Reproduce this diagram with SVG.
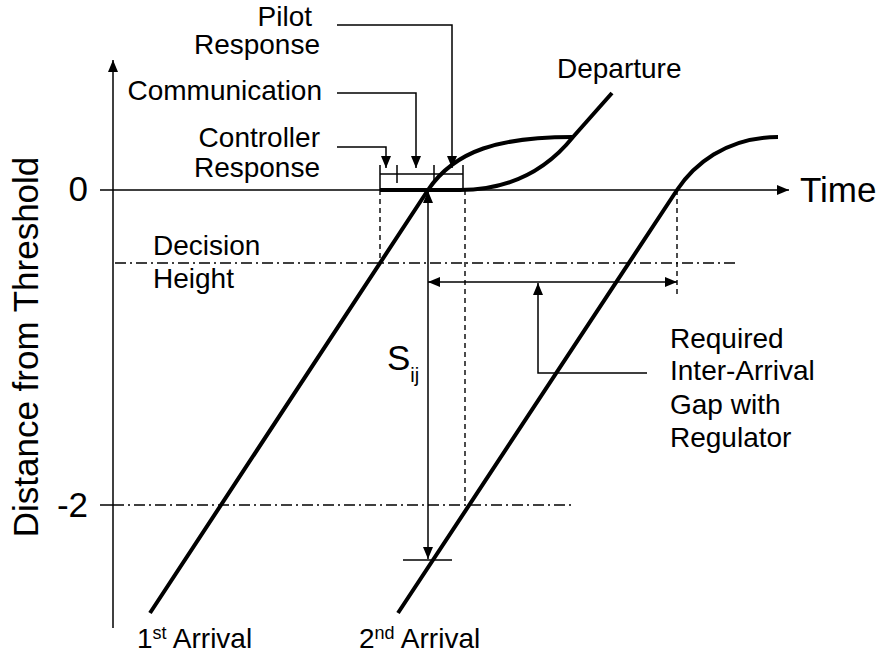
<svg xmlns="http://www.w3.org/2000/svg" width="881" height="655" viewBox="0 0 881 655">
<style>
.t{font-family:"Liberation Sans",Arial,sans-serif;font-size:28px;fill:#000}
.big{font-size:35px}
.ax{stroke:#000;stroke-width:1.5;fill:none}
.thin{stroke:#000;stroke-width:1.5;fill:none}
.thick{stroke:#000;stroke-width:4;fill:none;stroke-linejoin:round}
.dd{stroke:#000;stroke-width:1.4;fill:none;stroke-dasharray:11,4,2,4}
.dash{stroke:#000;stroke-width:1.4;fill:none;stroke-dasharray:5,4}
</style>
<defs>
<marker id="ah" viewBox="0 0 12 10" refX="12" refY="5" markerWidth="12" markerHeight="10" markerUnits="userSpaceOnUse" orient="auto-start-reverse">
<path d="M0,0 L12,5 L0,10 Z" fill="#000"/>
</marker>
</defs>
<rect width="881" height="655" fill="#fff"/>

<g id="axes">
<line class="ax" x1="113" y1="628" x2="113" y2="60" marker-end="url(#ah)"/>
<line class="ax" x1="100" y1="190" x2="789" y2="190" marker-end="url(#ah)"/>
<line class="ax" x1="100" y1="505" x2="113" y2="505"/>
<text class="t big" x="800" y="202">Time</text>
<text class="t big" x="88" y="201" text-anchor="end">0</text>
<text class="t big" x="88" y="517" text-anchor="end">-2</text>
<text class="t big" transform="translate(38,347) rotate(-90)" text-anchor="middle">Distance from Threshold</text>
</g>

<g id="reference-lines">
<line class="dd" x1="115" y1="263" x2="738" y2="263"/>
<line class="dd" x1="113" y1="505" x2="575" y2="505"/>
<line class="dash" x1="380" y1="190" x2="380" y2="263"/>
<line class="dash" x1="465" y1="190" x2="465" y2="505"/>
<line class="dash" x1="677" y1="190" x2="677" y2="298"/>
</g>

<g id="decision-height">
<text class="t" x="153" y="255">Decision</text>
<text class="t" x="153" y="288">Height</text>
</g>

<g id="first-arrival">
<path class="thick" d="M150,613 L428,190 C455,150 500,137 573,137"/>
<text class="t" x="137" y="648">1<tspan font-size="18" dy="-9">st</tspan><tspan dy="9"> Arrival</tspan></text>
</g>

<g id="departure">
<path class="thick" d="M380,190 L460,190 C500,190 540,178 573,137 L612,93"/>
<text class="t" x="557" y="78">Departure</text>
</g>

<g id="second-arrival">
<path class="thick" d="M398,613 L677,190 C693,166 725,137 778,137"/>
<text class="t" x="359" y="648">2<tspan font-size="18" dy="-9">nd</tspan><tspan dy="9"> Arrival</tspan></text>
</g>

<g id="delay-bracket">
<line class="thin" x1="380" y1="174" x2="463" y2="174"/>
<line class="thin" x1="380" y1="165" x2="380" y2="190"/>
<line class="thin" x1="397" y1="165" x2="397" y2="183"/>
<line class="thin" x1="434" y1="165" x2="434" y2="183"/>
<line class="thin" x1="463" y1="165" x2="463" y2="190"/>
</g>

<g id="pilot-response">
<text class="t" x="312" y="26" text-anchor="end" font-size="27">Pilot</text>
<text class="t" x="320" y="54" text-anchor="end" font-size="27">Response</text>
</g>
<g id="communication">
<text class="t" x="322" y="100" text-anchor="end">Communication</text>
</g>
<g id="controller-response">
<text class="t" x="320" y="147" text-anchor="end">Controller</text>
<text class="t" x="320" y="177" text-anchor="end">Response</text>
</g>

<g id="sij">
<text class="t big" x="387" y="370">S<tspan font-size="20" dy="12">ij</tspan></text>
</g>

<g id="required-gap">
<text class="t" x="670" y="348">Required</text>
<text class="t" x="670" y="380">Inter-Arrival</text>
<text class="t" x="670" y="414">Gap with</text>
<text class="t" x="670" y="447">Regulator</text>
</g>

<g id="connectors">
<polyline class="thin" points="337,25 452,25 452,168" marker-end="url(#ah)"/>
<polyline class="thin" points="337,93 416,93 416,168" marker-end="url(#ah)"/>
<polyline class="thin" points="337,147 386,147 386,168" marker-end="url(#ah)"/>
<line class="thin" x1="428" y1="559" x2="428" y2="191" marker-start="url(#ah)" marker-end="url(#ah)"/>
<line class="thin" x1="403" y1="560" x2="452" y2="560"/>
<line class="thin" x1="428" y1="282" x2="677" y2="282" marker-start="url(#ah)" marker-end="url(#ah)"/>
<polyline class="thin" points="647,373 538,373 538,283" marker-end="url(#ah)"/>
</g>
</svg>
